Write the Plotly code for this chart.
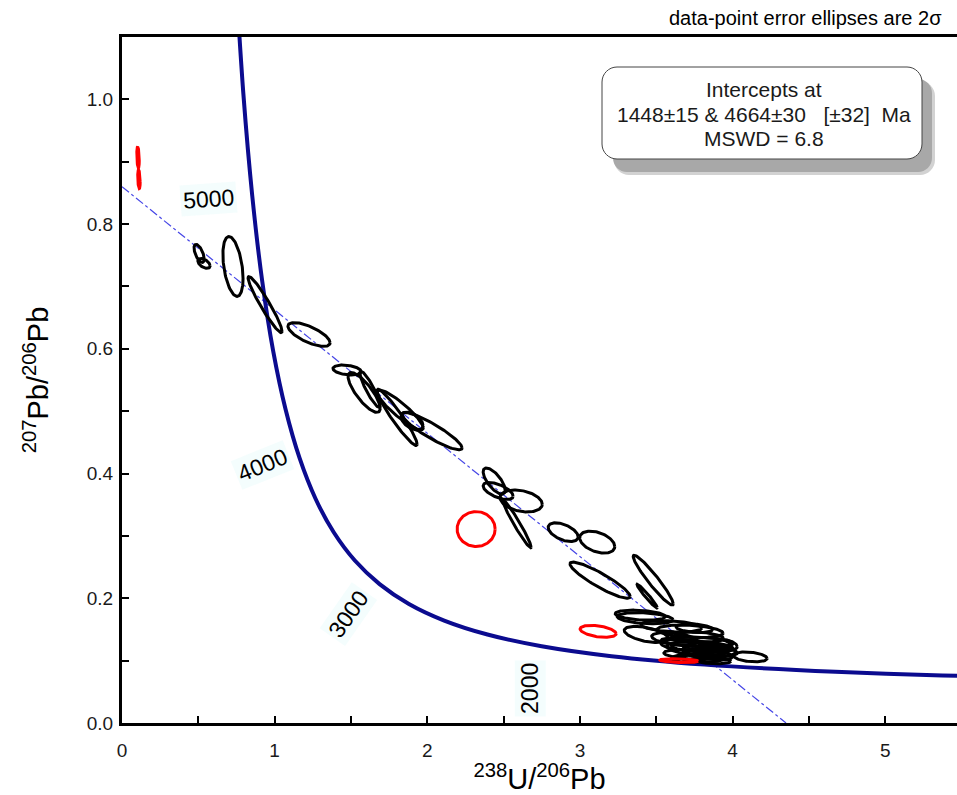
import numpy as np
import plotly.graph_objects as go

# ---------------- data ----------------
# Tera-Wasserburg concordia points (age in Ma, 238U/206Pb, 207Pb/206Pb)
conc_age = [1000, 1100, 1250, 1500, 1750, 2000, 2250, 2500, 2750, 3000,
            3250, 3500, 3750, 4000, 4250, 4500, 4750, 5000, 5250, 5500]
conc_x = [5.9594, 5.3746, 4.6733, 3.8170, 3.2063, 2.7490, 2.3941, 2.1108, 1.8796, 1.6874,
          1.5253, 1.3869, 1.2672, 1.1630, 1.0714, 0.9902, 0.9180, 0.8533, 0.7950, 0.7423]
conc_y = [0.0725, 0.0762, 0.0822, 0.0936, 0.1071, 0.1230, 0.1419, 0.1643, 0.1909, 0.2227,
          0.2605, 0.3058, 0.3600, 0.4250, 0.5030, 0.5967, 0.7095, 0.8453, 1.0090, 1.2067]

label_ages = [5000, 4000, 3000, 2000]

# discordia end points
disc_x = [0.0, 4.35]
disc_y = [0.86, 0.0]

# black error ellipses: centre x, centre y, 2-sigma x, 2-sigma y, rho
blk_x = [0.505, 0.537, 0.727, 0.937, 1.225, 1.474, 1.586, 1.625, 1.802, 1.822,
         1.900, 2.031, 2.438, 2.464, 2.615, 2.588, 2.890, 3.113, 3.132, 3.480,
         3.440, 3.395, 3.427, 3.434, 3.722, 3.768, 3.800, 3.850, 3.750, 3.900,
         4.115, 3.800, 3.620, 3.700, 3.780, 3.850, 3.720, 3.820, 3.900, 3.700,
         3.950, 3.870, 3.600, 3.750]
blk_y = [0.753, 0.737, 0.732, 0.671, 0.623, 0.566, 0.530, 0.535, 0.490, 0.502,
         0.484, 0.468, 0.388, 0.372, 0.356, 0.319, 0.306, 0.290, 0.229, 0.229,
         0.2035, 0.173, 0.168, 0.142, 0.147, 0.130, 0.122, 0.115, 0.110, 0.118,
         0.106, 0.104, 0.135, 0.125, 0.138, 0.128, 0.120, 0.112, 0.108, 0.103,
         0.125, 0.100, 0.155, 0.152]
blk_ex = [0.033, 0.040, 0.066, 0.111, 0.138, 0.092, 0.105, 0.066, 0.131, 0.151,
          0.072, 0.197, 0.072, 0.098, 0.138, 0.092, 0.098, 0.115, 0.197, 0.131,
          0.066, 0.164, 0.183, 0.144, 0.216, 0.236, 0.203, 0.180, 0.200, 0.120,
          0.111, 0.140, 0.150, 0.170, 0.160, 0.140, 0.150, 0.130, 0.100, 0.100,
          0.080, 0.120, 0.200, 0.120]
blk_ey = [0.0145, 0.008, 0.048, 0.045, 0.019, 0.008, 0.032, 0.029, 0.045, 0.032,
          0.0145, 0.030, 0.021, 0.0136, 0.0176, 0.038, 0.015, 0.0176, 0.029, 0.040,
          0.019, 0.008, 0.009, 0.013, 0.010, 0.008, 0.009, 0.009, 0.008, 0.010,
          0.008, 0.006, 0.010, 0.009, 0.008, 0.009, 0.010, 0.008, 0.007, 0.006,
          0.009, 0.005, 0.009, 0.007]
blk_rho = [-0.6, -0.5, -0.4, -0.95, -0.7, -0.3, -0.8, -0.9, -0.95, -0.9,
           -0.5, -0.9, -0.7, -0.6, -0.3, -0.97, -0.5, -0.4, -0.9, -0.95,
           -0.97, -0.3, -0.3, -0.5, -0.3, -0.3, -0.3, -0.3, -0.3, -0.4,
           -0.3, -0.2, -0.4, -0.3, -0.3, -0.3, -0.3, -0.2, -0.2, -0.2,
           -0.3, -0.2, -0.3, -0.3]

# red (rejected) ellipses
red_x = [0.105, 0.111, 2.320, 3.119, 3.650]
red_y = [0.907, 0.872, 0.311, 0.147, 0.100]
red_ex = [0.008, 0.008, 0.1245, 0.118, 0.125]
red_ey = [0.017, 0.015, 0.028, 0.0096, 0.003]
red_rho = [-0.3, -0.3, 0.0, -0.4, -0.3]

x_ticks = [0, 1, 2, 3, 4, 5]
y_ticks = [0.0, 0.2, 0.4, 0.6, 0.8, 1.0]

info_lines = ["Intercepts at",
              "1448±15\u00a0& 4664±30\u00a0\u00a0\u00a0[±32]\u00a0\u00a0Ma",
              "MSWD = 6.8"]

# ---------------- helpers ----------------
theta = np.linspace(0, 2 * np.pi, 120)


def ellipse_path(cx, cy, ex, ey, rho):
    xs, ys = [], []
    for a, b, sx, sy, r in zip(cx, cy, ex, ey, rho):
        s = np.sqrt(max(1 - r * r, 1e-6))
        xx = a + sx * np.cos(theta)
        yy = b + sy * (r * np.cos(theta) + s * np.sin(theta))
        xs += list(xx) + [None]
        ys += list(yy) + [None]
    return xs, ys


W, H = 957, 795
L, R, T, B = 122, 0, 37, 72
PW, PH = W - L - R, H - T - B


def px(xp):
    return (xp - L) / PW


def py(yp):
    return (H - B - yp) / PH


def rrect(x0, y0, x1, y1, r):
    k = 0.45
    p = [
        f"M {px(x0 + r)} {py(y0)}",
        f"L {px(x1 - r)} {py(y0)}",
        f"C {px(x1 - r * k)} {py(y0)} {px(x1)} {py(y0 + r * k)} {px(x1)} {py(y0 + r)}",
        f"L {px(x1)} {py(y1 - r)}",
        f"C {px(x1)} {py(y1 - r * k)} {px(x1 - r * k)} {py(y1)} {px(x1 - r)} {py(y1)}",
        f"L {px(x0 + r)} {py(y1)}",
        f"C {px(x0 + r * k)} {py(y1)} {px(x0)} {py(y1 - r * k)} {px(x0)} {py(y1 - r)}",
        f"L {px(x0)} {py(y0 + r)}",
        f"C {px(x0)} {py(y0 + r * k)} {px(x0 + r * k)} {py(y0)} {px(x0 + r)} {py(y0)}",
        "Z",
    ]
    return " ".join(p)


# ---------------- figure ----------------
fig = go.Figure()

fig.add_trace(go.Scatter(x=disc_x, y=disc_y, mode="lines",
                         line=dict(color="#4646e6", width=1.2, dash="dashdot"),
                         hoverinfo="skip"))
fig.add_trace(go.Scatter(x=conc_x, y=conc_y, mode="lines",
                         line=dict(color="#0b0b8f", width=4, shape="spline", smoothing=0.8),
                         hoverinfo="skip"))

bx, by = ellipse_path(blk_x, blk_y, blk_ex, blk_ey, blk_rho)
fig.add_trace(go.Scatter(x=bx, y=by, mode="lines",
                         line=dict(color="black", width=3), hoverinfo="skip"))
rx, ry = ellipse_path(red_x, red_y, red_ex, red_ey, red_rho)
fig.add_trace(go.Scatter(x=rx, y=ry, mode="lines",
                         line=dict(color="#ff0000", width=3), hoverinfo="skip"))

# age labels on concordia
label_style = {5000: (-44, -3, -4), 4000: (-37, -7, -22), 3000: (-31, -30, -55), 2000: (-11, -42, -90)}
for age in label_ages:
    i = conc_age.index(age)
    xs_, ys_, ang = label_style[age]
    fig.add_annotation(x=conc_x[i], y=conc_y[i], xref="x", yref="y", text=str(age),
                       showarrow=False, xshift=xs_, yshift=ys_, textangle=ang,
                       xanchor="center", yanchor="middle",
                       font=dict(family="Liberation Sans, Arial", size=23, color="black"),
                       bgcolor="rgba(236,251,251,0.6)", borderpad=2)

# info box with shadow
shapes = [
    dict(type="path", xref="paper", yref="paper", path=rrect(614, 81, 935, 175, 15),
         fillcolor="#d2d2d2", line=dict(width=0), layer="above"),
    dict(type="path", xref="paper", yref="paper", path=rrect(613, 79, 932, 172, 14),
         fillcolor="#a8a8a8", line=dict(width=0), layer="above"),
    dict(type="path", xref="paper", yref="paper", path=rrect(602, 67, 922, 159, 15),
         fillcolor="white", line=dict(color="#444444", width=1), layer="above"),
]
fig.update_layout(shapes=shapes)

for txt, yp in zip(info_lines, [89, 114, 138]):
    fig.add_annotation(xref="paper", yref="paper", x=px(764), y=py(yp),
                       xanchor="center", yanchor="middle",
                       text=txt, showarrow=False,
                       font=dict(family="Liberation Sans, Arial", size=21, color="#1a1a1a"))

fig.add_annotation(xref="paper", yref="paper", x=px(944), y=py(18),
                   xanchor="right", yanchor="middle",
                   text="data-point error ellipses are 2σ", showarrow=False,
                   font=dict(family="Liberation Sans Narrow, Liberation Sans, Arial", size=20, color="black"))

axis_font = dict(family="Liberation Sans, Arial", size=19, color="#1a1a1a")

fig.update_xaxes(range=[0, 5.47], tickvals=x_ticks, ticktext=[str(v) for v in x_ticks],
                 ticks="inside", ticklen=7, tickwidth=2, tickcolor="black",
                 minor=dict(ticks="inside", ticklen=7, tickwidth=2, tickcolor="black", dtick=0.5, tick0=0),
                 showline=True, linecolor="black", linewidth=3, mirror=True,
                 showgrid=False, zeroline=False, tickfont=axis_font, ticklabelstandoff=8,
                 title=dict(text="<sup>238</sup>U/<sup>206</sup>Pb", standoff=4,
                            font=dict(family="Liberation Sans, Arial", size=29, color="black")))
fig.update_yaxes(range=[0, 1.1], tickvals=y_ticks, ticktext=[f"{v:.1f}" for v in y_ticks],
                 ticks="inside", ticklen=7, tickwidth=2, tickcolor="black",
                 minor=dict(ticks="inside", ticklen=7, tickwidth=2, tickcolor="black", dtick=0.1, tick0=0),
                 showline=True, linecolor="black", linewidth=3, mirror=False,
                 showgrid=False, zeroline=False, tickfont=axis_font, ticklabelstandoff=2,
                 title=dict(text="<sup>207</sup>Pb/<sup>206</sup>Pb", standoff=30,
                            font=dict(family="Liberation Sans, Arial", size=29, color="black")))

fig.update_layout(width=W, height=H, margin=dict(l=L, r=R, t=T, b=B, autoexpand=False),
                  paper_bgcolor="white", plot_bgcolor="white", showlegend=False)

fig.write_html("out.html")
